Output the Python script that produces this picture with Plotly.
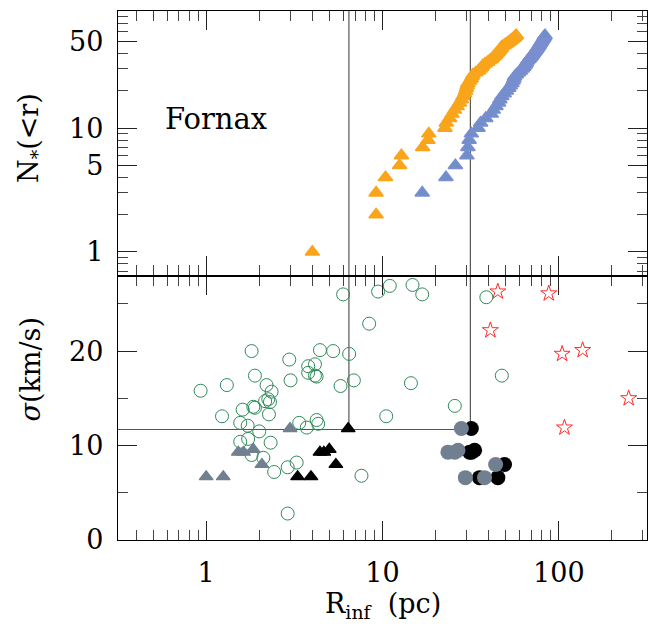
import plotly.graph_objects as go

# ---------------- data ----------------
# Top panel: cumulative number of stars inside radius r (Fornax)
orange_r = [4.0, 9.2, 9.2, 10.4, 12.5, 12.8, 16.9, 18.1, 18.3, 22.6,
            23.0, 24.0, 24.8, 25.6, 26.5, 27.3, 28.0, 28.6, 29.2, 29.6,
            29.9, 30.2, 30.5, 31.2, 31.8, 32.2, 32.6, 33.8, 35.0, 35.8,
            36.5, 37.1, 38.2, 39.4, 40.4, 41.5, 42.2, 43.0, 43.8, 44.5,
            45.2, 45.8, 46.4, 47.0, 47.3, 48.3, 49.5, 50.5, 51.6, 52.6,
            53.5, 54.3, 55.2, 56.0, 56.8, 57.4]
orange_n = [1, 2, 3, 4, 5, 6, 7, 8, 9, 10,
            11, 12, 13, 14, 15, 16, 17, 18, 19, 20,
            21, 22, 23, 24, 25, 26, 27, 28, 29, 30,
            31, 32, 33, 34, 35, 36, 37, 38, 39, 40,
            41, 42, 43, 44, 45, 46, 47, 48, 49, 50,
            51, 52, 53, 54, 55, 56]

blue_r = [16.8, 22.9, 25.9, 30.1, 30.5, 31.0, 31.9, 34.8, 36.0, 38.5,
          41.4, 42.5, 44.0, 45.5, 46.3, 47.5, 49.0, 50.5, 52.0, 53.0,
          54.2, 55.0, 55.6, 56.1, 57.5, 59.0, 60.5, 62.0, 63.2, 64.2,
          65.0, 65.5, 66.5, 67.8, 68.8, 69.8, 70.8, 71.7, 72.6, 73.5,
          74.4, 75.2, 76.0, 76.8, 77.5, 78.2, 78.9, 79.6, 80.3, 81.0,
          81.7, 82.3, 82.9, 83.5]
blue_n = [3, 4, 5, 6, 7, 8, 9, 10, 11, 12,
          13, 14, 15, 16, 17, 18, 19, 20, 21, 22,
          23, 24, 25, 26, 27, 28, 29, 30, 31, 32,
          33, 34, 35, 36, 37, 38, 39, 40, 41, 42,
          43, 44, 45, 46, 47, 48, 49, 50, 51, 52,
          53, 54, 55, 56]

# Bottom panel: velocity dispersion vs influence radius
green_r = [0.93, 1.31, 1.23, 1.81, 1.89, 1.61, 1.85, 1.89, 1.56, 1.72,
           1.73, 1.56, 2.00, 2.20, 2.35, 2.16, 2.25, 2.30, 2.27, 2.32,
           2.11, 1.81, 2.43, 2.96, 3.01, 3.37, 3.72, 3.26, 2.90, 2.90,
           3.79, 4.14, 3.79, 4.14, 4.23, 4.42, 5.25, 6.47, 5.78, 6.88,
           4.23, 4.32, 5.98, 8.4, 9.44, 11.0, 10.5, 7.6, 14.8, 16.8,
           38.8, 47.5, 14.5, 25.7]
green_sigma = [15.8, 16.4, 13.1, 20.0, 17.4, 13.8, 14.1, 14.0, 12.4, 12.1,
               10.7, 10.4, 11.5, 16.4, 15.7, 14.7, 14.9, 14.6, 13.3, 10.3,
               8.7, 9.0, 7.2, 19.1, 16.9, 12.4, 11.9, 8.2, 7.7, 2.8,
               18.4, 18.6, 17.7, 17.4, 17.3, 20.1, 20.0, 19.7, 16.3, 16.9,
               12.7, 12.3, 26.0, 22.9, 26.3, 26.9, 13.1, 6.8, 27.0, 26.0,
               25.7, 17.4, 16.6, 14.2]

star_r = [45.1, 87.7, 40.9, 104.4, 136.5, 249.0, 107.6]
star_sigma = [26.3, 26.1, 22.2, 19.7, 20.1, 15.0, 11.9]

gray_tri_r = [1.00, 1.25, 1.52, 1.63, 1.85, 2.07, 2.99]
gray_tri_sigma = [6.7, 6.7, 9.3, 9.3, 9.6, 8.0, 11.8]
black_tri_r = [3.30, 3.93, 4.42, 4.65, 4.99, 5.44, 6.39]
black_tri_sigma = [6.7, 6.7, 9.3, 9.3, 9.6, 8.0, 11.8]

black_circ_r = [35.5, 45.1, 31.2, 32.0, 33.3, 49.2, 31.9]
black_circ_sigma = [6.6, 6.6, 9.3, 9.3, 9.5, 8.0, 11.8]
gray_circ_r = [29.5, 37.9, 23.5, 25.7, 26.8, 43.8, 28.0]
gray_circ_sigma = [6.6, 6.6, 9.3, 9.3, 9.5, 8.0, 11.8]

# reference lines
r_lines = [6.45, 31.5]
sigma_line = 11.7

x_tick_vals = [1, 10, 100]
x_tick_text = ["1", "10", "100"]
n_tick_vals = [1, 5, 10, 50]
n_tick_text = ["1", "5", "10", "50"]
s_tick_vals = [0, 10, 20]
s_tick_text = ["0", "10", "20"]

# ---------------- styling ----------------
ORANGE = "#F9A51B"
BLUE = "#6F8FCB"
GREEN = "#2E8B57"
RED = "#FF2A2A"
SLATE = "#708090"
FONT = "DejaVu Serif"

X_MIN_LOG, X_MAX_LOG = -0.5, 2.5

x_minor = [m * 10 ** e for e in (-1, 0, 1, 2) for m in range(2, 10)]
x_minor = [v for v in x_minor if 10 ** X_MIN_LOG <= v <= 10 ** X_MAX_LOG and v not in x_tick_vals]
n_minor = [m * 10 ** e for e in (-1, 0, 1) for m in range(2, 10)]
n_minor = [v for v in n_minor if v not in n_tick_vals and 0.6 < v < 90]

fig = go.Figure()

# top panel
fig.add_trace(go.Scatter(x=orange_r, y=orange_n, mode="markers", xaxis="x2", yaxis="y2",
                         marker=dict(symbol="triangle-up", size=12.5, color=ORANGE,
                                     line=dict(width=1.5, color=ORANGE))))
fig.add_trace(go.Scatter(x=blue_r, y=blue_n, mode="markers", xaxis="x2", yaxis="y2",
                         marker=dict(symbol="triangle-up", size=12.5, color=BLUE,
                                     line=dict(width=1.5, color="#7A8ED0"))))

# bottom panel
fig.add_trace(go.Scatter(x=green_r, y=green_sigma, mode="markers", xaxis="x", yaxis="y",
                         marker=dict(symbol="circle-open", size=13, color=GREEN, line=dict(width=1))))
fig.add_trace(go.Scatter(x=star_r, y=star_sigma, mode="markers", xaxis="x", yaxis="y",
                         marker=dict(symbol="star-open", size=12, color=RED, line=dict(width=1))))
fig.add_trace(go.Scatter(x=black_tri_r, y=black_tri_sigma, mode="markers", xaxis="x", yaxis="y",
                         marker=dict(symbol="triangle-up", size=12, color="black",
                                     line=dict(width=1.2, color="black"))))
fig.add_trace(go.Scatter(x=gray_tri_r, y=gray_tri_sigma, mode="markers", xaxis="x", yaxis="y",
                         marker=dict(symbol="triangle-up", size=12, color=SLATE,
                                     line=dict(width=1.2, color=SLATE))))
fig.add_trace(go.Scatter(x=black_circ_r, y=black_circ_sigma, mode="markers", xaxis="x", yaxis="y",
                         marker=dict(symbol="circle", size=15, color="black", line=dict(width=0))))
fig.add_trace(go.Scatter(x=gray_circ_r, y=gray_circ_sigma, mode="markers", xaxis="x", yaxis="y",
                         marker=dict(symbol="circle", size=15, color=SLATE, line=dict(width=0))))

LINE = dict(color="#555555", width=1.2)
shapes = []
for r in r_lines:
    shapes.append(dict(type="line", xref="x2", yref="y2 domain", x0=r, x1=r, y0=0, y1=1,
                       line=LINE, layer="below"))
    shapes.append(dict(type="line", xref="x", yref="y", x0=r, x1=r, y0=sigma_line, y1=28,
                       line=LINE, layer="below"))
shapes.append(dict(type="line", xref="x", yref="y", x0=10 ** X_MIN_LOG, x1=r_lines[1],
                   y0=sigma_line, y1=sigma_line, line=LINE, layer="below"))

common = dict(showline=True, linecolor="black", linewidth=1.3, mirror="allticks",
              ticks="inside", ticklen=19, tickwidth=1.2, tickcolor="#222222",
              showgrid=False, zeroline=False,
              tickfont=dict(family=FONT, size=27, color="black"))

fig.update_layout(
    width=659, height=629,
    margin=dict(l=117.5, r=11.5, t=10.5, b=88.5),
    paper_bgcolor="white", plot_bgcolor="white",
    showlegend=False,
    shapes=shapes,
    xaxis=dict(type="log", range=[X_MIN_LOG, X_MAX_LOG], domain=[0, 1], anchor="y",
               tickmode="array", tickvals=x_tick_vals, ticktext=x_tick_text,
               ticklabelstandoff=8,
               minor=dict(ticks="inside", ticklen=10, tickwidth=1.2, tickcolor="#444444",
                          tickvals=x_minor, showgrid=False),
               **common),
    xaxis2=dict(type="log", range=[X_MIN_LOG, X_MAX_LOG], domain=[0, 1], anchor="y2",
                matches="x", showticklabels=False,
                tickmode="array", tickvals=x_tick_vals,
                minor=dict(ticks="inside", ticklen=10, tickwidth=1.2, tickcolor="#444444",
                           tickvals=x_minor, showgrid=False),
                **common),
    yaxis=dict(range=[0, 28], domain=[0, 0.5], anchor="x",
               tickmode="array", tickvals=s_tick_vals, ticktext=s_tick_text,
               ticklabelstandoff=8,
               minor=dict(ticks="inside", ticklen=10, tickwidth=1.2, tickcolor="#444444",
                          tickvals=[5, 15, 25], showgrid=False),
               **common),
    yaxis2=dict(type="log", range=[-0.19, 1.945], domain=[0.5, 1], anchor="x2",
                tickmode="array", tickvals=n_tick_vals, ticktext=n_tick_text,
                ticklabelstandoff=8,
                minor=dict(ticks="inside", ticklen=10, tickwidth=1.2, tickcolor="#444444",
                           tickvals=n_minor, showgrid=False),
                **common),
    annotations=[
        dict(text="Fornax", xref="paper", yref="paper", x=(216 - 117.5) / 530,
             y=1 - (119 - 10.5) / 530, xanchor="center", yanchor="middle", showarrow=False,
             font=dict(family=FONT, size=29, color="black")),
        dict(text="R<sub>inf</sub>  (pc)", xref="paper", yref="paper", x=0.5,
             y=-(606 - 540.5) / 530, xanchor="center", yanchor="middle", showarrow=False,
             font=dict(family=FONT, size=27, color="black")),
        dict(text="N<sub>*</sub>(&lt;r)", xref="paper", yref="paper", x=-(117.5 - 30) / 530,
             y=1 - (138 - 10.5) / 530, xanchor="center", yanchor="middle", showarrow=False,
             textangle=-90, font=dict(family=FONT, size=27, color="black")),
        dict(text="<i>σ</i>(km/s)", xref="paper", yref="paper", x=-(117.5 - 30) / 530,
             y=1 - (370 - 10.5) / 530, xanchor="center", yanchor="middle", showarrow=False,
             textangle=-90, font=dict(family=FONT, size=27, color="black")),
    ],
)

fig.write_html("out.html")
